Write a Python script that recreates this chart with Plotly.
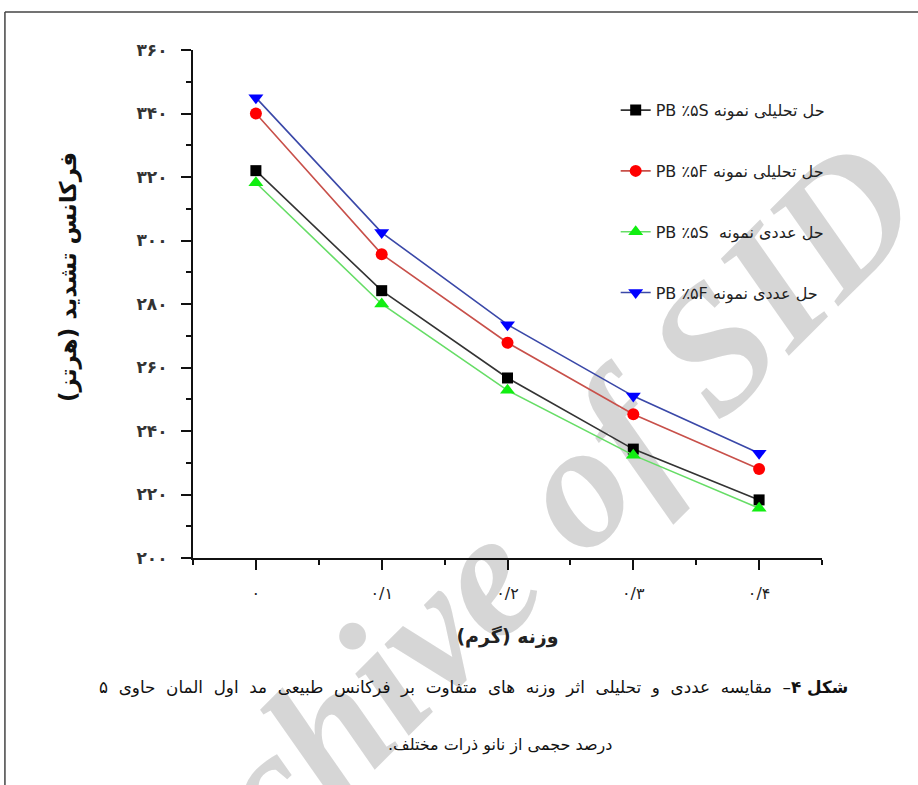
import plotly.graph_objects as go

# ---------------- data ----------------
weights = [0, 0.1, 0.2, 0.3, 0.4]
x_tick_vals = [0, 0.1, 0.2, 0.3, 0.4]
x_tick_text = ["۰", "۰/۱", "۰/۲", "۰/۳", "۰/۴"]
y_tick_vals = [200, 220, 240, 260, 280, 300, 320, 340, 360]
y_tick_text = ["۲۰۰", "۲۲۰", "۲۴۰", "۲۶۰", "۲۸۰", "۳۰۰", "۳۲۰", "۳۴۰", "۳۶۰"]

analytic_S = [322.0, 284.2, 256.7, 234.3, 218.3]
analytic_F = [340.0, 295.7, 267.8, 245.3, 228.0]
numeric_S = [318.2, 280.0, 252.8, 232.4, 215.7]
numeric_F = [345.0, 302.5, 273.5, 251.0, 233.0]

series_names = [
    "PB ٪۵S حل تحلیلی نمونه",
    "PB ٪۵F حل تحلیلی نمونه",
    "PB ٪۵S  حل عددی نمونه",
    "PB ٪۵F حل عددی نمونه",
]

caption_line1_words = ["<b>شکل ۴</b>–", "مقایسه", "عددی", "و", "تحلیلی", "اثر", "وزنه",
                       "های", "متفاوت", "بر", "فرکانس", "طبیعی", "مد", "اول", "المان",
                       "حاوی", "۵"]
caption_line2 = "درصد حجمی از نانو ذرات مختلف.\u200f"

ARFONT = "DejaVu Sans"

fig = go.Figure()

styles = [
    (analytic_S, "#333333", "#000000", "square", 11),
    (analytic_F, "#c8504a", "#ff0000", "circle", 12),
    (numeric_S, "#66dd66", "#11ee11", "triangle-up", 13),
    (numeric_F, "#3a48a8", "#0000ff", "triangle-down", 13),
]
for i, (vals, lc, mc, sym, ms) in enumerate(styles):
    fig.add_trace(go.Scatter(
        x=weights, y=vals, mode="lines+markers", name=series_names[i],
        legendgroup=f"g{i}",
        line=dict(color=lc, width=1.6),
        marker=dict(color=mc, symbol=sym, size=ms, line=dict(width=0)),
    ))

fig.update_layout(
    width=918, height=785, autosize=False,
    margin=dict(l=193, r=96, t=50, b=227),
    paper_bgcolor="white", plot_bgcolor="white",
    font=dict(family=ARFONT, color="#222222"),
    showlegend=True,
    legend=dict(
        x=0.672, y=0.915, xanchor="left", yanchor="top",
        bgcolor="rgba(0,0,0,0)", tracegroupgap=37,
        font=dict(family=ARFONT, size=16, color="#222222"),
    ),
    xaxis=dict(
        range=[-0.05, 0.45], showgrid=False, zeroline=False,
        showline=True, linecolor="#111111", linewidth=2,
        tickmode="array", tickvals=x_tick_vals, ticktext=x_tick_text,
        ticks="outside", ticklen=10, tickwidth=2, tickcolor="#111111",
        ticklabelstandoff=10,
        tickfont=dict(family=ARFONT, size=16, color="#222222"),
        minor=dict(tick0=-0.05, dtick=0.05, ticks="outside", ticklen=5,
                   tickwidth=2, tickcolor="#111111", showgrid=False),
        title=dict(text="<b>وزنه (گرم)</b>", standoff=27,
                   font=dict(family=ARFONT, size=19, color="#222222")),
    ),
    yaxis=dict(
        range=[200, 360], showgrid=False, zeroline=False,
        showline=True, linecolor="#111111", linewidth=2,
        tickmode="array", tickvals=y_tick_vals, ticktext=y_tick_text,
        ticks="outside", ticklen=10, tickwidth=2, tickcolor="#111111",
        ticklabelstandoff=10,
        tickfont=dict(family=ARFONT, size=17, color="#333333", weight="bold"),
        minor=dict(tick0=200, dtick=10, ticks="outside", ticklen=5,
                   tickwidth=2, tickcolor="#111111", showgrid=False),
    ),
)

# y axis title (placed as annotation for exact position)
fig.add_annotation(
    text="<b>فرکانس تشدید (هرتز)</b>", textangle=-90,
    xref="paper", yref="paper", x=-0.199, y=0.553,
    xanchor="center", yanchor="middle",
    showarrow=False, font=dict(family=ARFONT, size=23, color="#111111"),
)

# caption (justified first line: widened word gaps)
fig.add_annotation(
    text=" \u00a0".join(caption_line1_words),
    xref="paper", yref="paper", x=1.0445, y=-0.254, xanchor="right", yanchor="middle",
    showarrow=False, font=dict(family=ARFONT, size=16.8, color="#111111"),
)
fig.add_annotation(
    text=caption_line2,
    xref="paper", yref="paper", x=0.488, y=-0.368, xanchor="center", yanchor="middle",
    showarrow=False, font=dict(family=ARFONT, size=16, color="#111111"),
)

# page frame (top and left rules)
fig.add_shape(type="line", xref="paper", yref="paper",
              x0=-0.299, x1=1.16, y0=1.0748, y1=1.0748,
              line=dict(color="#444444", width=1.5))
fig.add_shape(type="line", xref="paper", yref="paper",
              x0=-0.299, x1=-0.299, y0=1.0748, y1=-0.46,
              line=dict(color="#444444", width=1.5))

# watermark
fig.add_shape(type="rect", xref="paper", yref="paper",
              x0=0.36, x1=0.56, y0=-0.03, y1=0.06, layer="below",
              line=dict(width=0), fillcolor="rgba(0,0,0,0)",
              label=dict(text="<b><i>Archive of SID</i></b>", textangle=-45,
                         textposition="middle center",
                         font=dict(family="Liberation Serif", size=178,
                                   color="rgba(200,200,200,0.75)")))

fig.write_html("out.html")
